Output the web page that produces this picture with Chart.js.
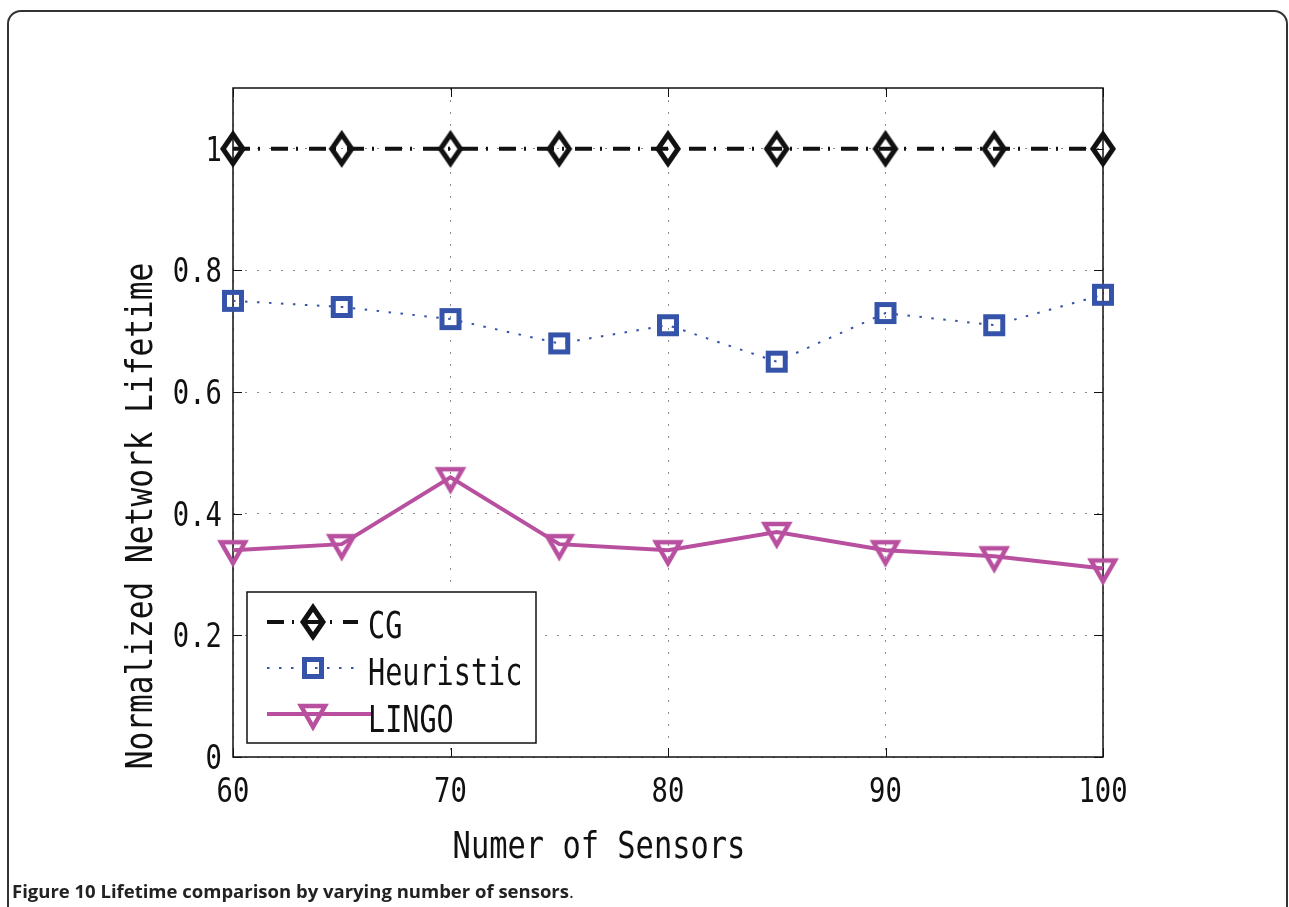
<!DOCTYPE html>
<html>
<head>
<meta charset="utf-8">
<title>Figure 10</title>
<script src="https://cdn.jsdelivr.net/npm/chart.js@4.4.1/dist/chart.umd.min.js"></script>
<style>
  html, body { margin: 0; padding: 0; background: #fff; overflow: hidden; }
  #page { position: relative; width: 1289px; height: 907px; }
  #frame { position: absolute; left: 7px; top: 10px; width: 1281px; height: 960px; border: 2px solid #333; border-radius: 14px; box-sizing: border-box; }
  #lifetime-chart { position: absolute; left: 0; top: 0; }
  #caption { position: absolute; left: 12px; top: 878px; font: bold 18.5px "Open Sans", sans-serif; color: #222; white-space: nowrap; }
  #caption span { font-weight: normal; }
</style>
</head>
<body>
<div id="page">
  <div id="frame"></div>
  <canvas id="lifetime-chart" width="1289" height="907"></canvas>
  <div id="caption">Figure 10 Lifetime comparison by varying number of sensors<span>.</span></div>
</div>
<script>
// data
const sensors = [60, 65, 70, 75, 80, 85, 90, 95, 100];
const cgLifetime = [1, 1, 1, 1, 1, 1, 1, 1, 1];
const heuristicLifetime = [0.75, 0.74, 0.72, 0.68, 0.71, 0.65, 0.73, 0.71, 0.76];
const lingoLifetime = [0.34, 0.35, 0.46, 0.35, 0.34, 0.37, 0.34, 0.33, 0.31];
const seriesNames = ['CG', 'Heuristic', 'LINGO'];

const xTicks = [60, 70, 80, 90, 100];
const yTicks = [0, 0.2, 0.4, 0.6, 0.8, 1];
const yTickLabels = ['0', '0.2', '0.4', '0.6', '0.8', '1'];
const xTitle = 'Numer of Sensors';
const yTitle = 'Normalized Network Lifetime';

// matlab-ish hollow markers, drawn once on small canvases
function makeMarker(w, h, color, lw, pathFn) {
  const c = document.createElement('canvas');
  c.width = w;
  c.height = h;
  const g = c.getContext('2d');
  g.strokeStyle = color;
  g.lineWidth = lw;
  g.lineJoin = 'miter';
  g.beginPath();
  pathFn(g);
  g.closePath();
  g.stroke();
  return c;
}

const diamond = makeMarker(30, 40, '#111', 5, g => {
  g.moveTo(15, 5.5); g.lineTo(25, 20); g.lineTo(15, 34.5); g.lineTo(5, 20);
});
const square = makeMarker(28, 28, '#3553a8', 5, g => {
  g.rect(5.5, 5.5, 17, 17);
});
const triangle = makeMarker(36, 36, '#b8509f', 4.5, g => {
  g.moveTo(6, 10); g.lineTo(30, 10); g.lineTo(18, 31);
});

function points(values) {
  return sensors.map((x, i) => ({ x: x, y: values[i] }));
}

// condensed mono text, like the original figure font
function monoText(ctx, text, x, y, size, sx, align, vertical) {
  ctx.save();
  ctx.translate(x, y);
  if (vertical) ctx.rotate(-Math.PI / 2);
  ctx.scale(sx, 1);
  ctx.font = size + 'px "DejaVu Sans Mono"';
  ctx.fillStyle = '#111';
  ctx.textAlign = align;
  ctx.textBaseline = 'alphabetic';
  ctx.fillText(text, 0, 0);
  ctx.restore();
}

const figurePlugin = {
  id: 'figureDecor',
  beforeDatasetsDraw(chart) {
    const ctx = chart.ctx;
    const a = chart.chartArea;
    const xs = chart.scales.x;
    const ys = chart.scales.y;
    ctx.save();
    ctx.strokeStyle = '#111';
    ctx.lineWidth = 1.5;
    ctx.strokeRect(a.left, a.top, a.right - a.left, a.bottom - a.top);
    // inward tick marks
    ctx.beginPath();
    ys.ticks.forEach(t => {
      const py = Math.round(ys.getPixelForValue(t.value)) + 0.5;
      ctx.moveTo(a.left, py); ctx.lineTo(a.left + 9, py);
      ctx.moveTo(a.right, py); ctx.lineTo(a.right - 9, py);
    });
    xs.ticks.forEach(t => {
      const px = Math.round(xs.getPixelForValue(t.value)) + 0.5;
      ctx.moveTo(px, a.bottom); ctx.lineTo(px, a.bottom - 9);
      ctx.moveTo(px, a.top); ctx.lineTo(px, a.top + 9);
    });
    ctx.lineWidth = 1;
    ctx.stroke();
    ctx.restore();
  },
  afterDatasetsDraw(chart) {
    const ctx = chart.ctx;
    const xs = chart.scales.x;
    const ys = chart.scales.y;

    // tick labels
    ys.ticks.forEach(t => {
      const label = yTickLabels[yTicks.indexOf(t.value)];
      monoText(ctx, label, 222, ys.getPixelForValue(t.value) + 12, 34, 0.8, 'right', false);
    });
    xs.ticks.forEach(t => {
      monoText(ctx, String(t.value), xs.getPixelForValue(t.value), 802, 34, 0.8, 'center', false);
    });

    // axis titles
    monoText(ctx, xTitle, 599, 858, 38, 0.8, 'center', false);
    monoText(ctx, yTitle, 152, 516, 38, 0.82, 'center', true);

    // legend box
    ctx.save();
    ctx.fillStyle = '#fff';
    ctx.strokeStyle = '#111';
    ctx.lineWidth = 1.5;
    ctx.fillRect(247, 592, 289, 151);
    ctx.strokeRect(247, 592, 289, 151);
    ctx.restore();

    const rowY = [622, 668, 714];
    const textY = [638, 685, 732];
    chart.data.datasets.forEach((ds, i) => {
      const y = rowY[i];
      ctx.save();
      ctx.strokeStyle = ds.borderColor;
      ctx.lineWidth = ds.borderWidth;
      ctx.setLineDash(ds.borderDash || []);
      ctx.beginPath();
      ctx.moveTo(267, y);
      ctx.lineTo(i === 2 ? 373 : 358, y);
      ctx.stroke();
      const m = ds.pointStyle;
      ctx.drawImage(m, 313 - m.width / 2, y - m.height / 2);
      ctx.restore();
      monoText(ctx, ds.label, 368, textY[i], 37, 0.77, 'left', false);
    });
  }
};

const ctx = document.getElementById('lifetime-chart').getContext('2d');

new Chart(ctx, {
  type: 'line',
  data: {
    datasets: [
      {
        label: seriesNames[0],
        data: points(cgLifetime),
        borderColor: '#111',
        borderWidth: 4,
        borderDash: [17, 8, 2, 11],
        pointStyle: diamond,
        pointRadius: 12
      },
      {
        label: seriesNames[1],
        data: points(heuristicLifetime),
        borderColor: '#3553a8',
        borderWidth: 2,
        borderDash: [2.5, 9.5],
        pointStyle: square,
        pointRadius: 12
      },
      {
        label: seriesNames[2],
        data: points(lingoLifetime),
        borderColor: '#b8509f',
        borderWidth: 4,
        pointStyle: triangle,
        pointRadius: 12
      }
    ].map(ds => Object.assign(ds, { tension: 0, fill: false, clip: false }))
  },
  options: {
    responsive: false,
    animation: false,
    events: [],
    layout: { padding: { left: 233, top: 88, right: 186, bottom: 150 } },
    plugins: {
      legend: { display: false },
      tooltip: { enabled: false }
    },
    scales: {
      x: {
        type: 'linear',
        min: 60,
        max: 100,
        afterBuildTicks: s => { s.ticks = xTicks.map(v => ({ value: v })); },
        afterFit: s => { s.height = 0; },
        ticks: { display: false },
        grid: { color: '#8a8a8a', lineWidth: 1, drawTicks: false },
        border: { display: false, dash: [2, 10] }
      },
      y: {
        min: 0,
        max: 1.1,
        afterBuildTicks: s => { s.ticks = yTicks.map(v => ({ value: v })); },
        afterFit: s => { s.width = 0; },
        ticks: { display: false },
        grid: { color: '#8a8a8a', lineWidth: 1, drawTicks: false },
        border: { display: false, dash: [2, 10] }
      }
    }
  },
  plugins: [figurePlugin]
});
</script>
</body>
</html>
